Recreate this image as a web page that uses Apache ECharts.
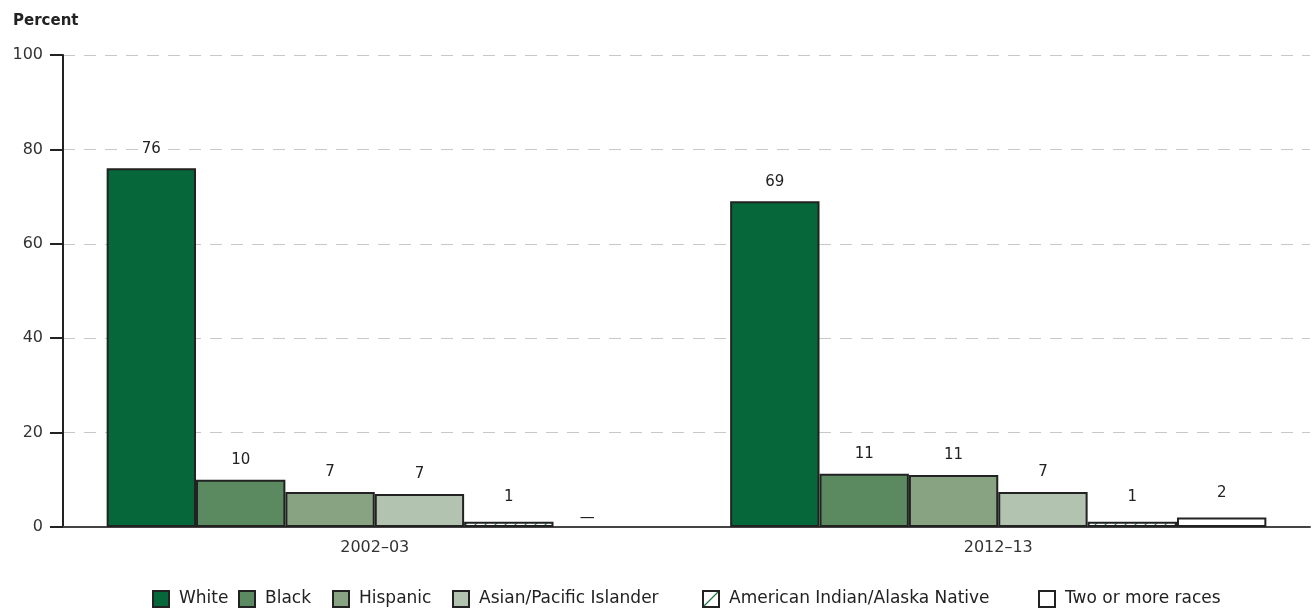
<!DOCTYPE html>
<html>
<head>
<meta charset="utf-8">
<style>
html,body{margin:0;padding:0;background:#fff;}
#chart{width:1314px;height:609px;}
</style>
<script src="https://cdn.jsdelivr.net/npm/echarts@6/dist/echarts.min.js"></script>
</head>
<body>
<div id="chart"></div>
<script>
var categories = ['2002\u201303', '2012\u201313'];
var seriesNames = ['White', 'Black', 'Hispanic', 'Asian/Pacific Islander', 'American Indian/Alaska Native', 'Two or more races'];
var white = [76, 69];
var black = [10, 11.3];
var hispanic = [7.4, 11];
var asian = [7, 7.4];
var aian = [1.1, 1.1];
var twoOrMore = [null, 2];
var yTicks = [0, 20, 40, 60, 80, 100];

var FONT = 'DejaVu Sans';
var colors = ['#05673A', '#5B8A60', '#87A382', '#B2C3AF', '#ffffff', '#ffffff'];
var legendLeft = [147, 233, 327, 447, 697, 1033];
var labelDistance = [11, 11, 11, 11, 16, 16];

function hatch() {
  var c = document.createElement('canvas');
  c.width = 10; c.height = 10;
  var g = c.getContext('2d');
  g.fillStyle = '#fff';
  g.fillRect(0, 0, 10, 10);
  g.strokeStyle = '#1E7A45';
  g.lineWidth = 1.2;
  g.beginPath();
  g.moveTo(0, 10); g.lineTo(10, 0);
  g.moveTo(-5, 5); g.lineTo(5, -5);
  g.moveTo(5, 15); g.lineTo(15, 5);
  g.stroke();
  return {image: c, repeat: 'repeat'};
}

function legendHatch() {
  var c = document.createElement('canvas');
  c.width = 16; c.height = 16;
  var g = c.getContext('2d');
  g.fillStyle = '#fff';
  g.fillRect(0, 0, 16, 16);
  g.strokeStyle = '#1E7A45';
  g.lineWidth = 1.2;
  g.beginPath();
  g.moveTo(1, 15); g.lineTo(15, 1);
  g.stroke();
  return {image: c, repeat: 'repeat'};
}

var allData = [white, black, hispanic, asian, aian, twoOrMore];
var series = allData.map(function (arr, i) {
  return {
    name: seriesNames[i],
    type: 'bar',
    barGap: '0%',
    barCategoryGap: '14%',
    itemStyle: {
      color: i === 4 ? hatch() : colors[i],
      borderColor: '#222',
      borderWidth: 2
    },
    label: {
      show: true,
      position: 'top',
      distance: labelDistance[i],
      fontFamily: FONT,
      fontSize: 15,
      color: '#222',
      backgroundColor: '#fff',
      padding: [1, 3],
      formatter: function (p) { return Math.round(p.value); }
    },
    data: arr.map(function (v) {
      if (v === null) {
        return {
          value: 0,
          itemStyle: {color: 'rgba(0,0,0,0)', borderWidth: 0},
          label: {formatter: '\u2014', distance: 0, offset: [-11, 0], backgroundColor: 'rgba(0,0,0,0)'}
        };
      }
      return v;
    })
  };
});

var legends = seriesNames.map(function (name, i) {
  return {
    data: [{
      name: name,
      itemStyle: i === 4 ? {color: legendHatch()} : undefined
    }],
    left: legendLeft[i],
    top: 585,
    icon: 'rect',
    itemWidth: 16,
    itemHeight: 16,
    selectedMode: false,
    textStyle: {fontFamily: FONT, fontSize: 17, color: '#222', padding: [0, 0, 0, 5]}
  };
});

var chart = echarts.init(document.getElementById('chart'), null, {renderer: 'canvas'});
chart.setOption({
  animation: false,
  backgroundColor: '#fff',
  textStyle: {fontFamily: FONT},
  title: {
    text: 'Percent',
    left: 8,
    top: 9,
    textStyle: {fontFamily: FONT, fontSize: 15, fontWeight: 'bold', color: '#222'}
  },
  grid: {left: 63, right: 4, top: 55, bottom: 82, containLabel: false},
  legend: legends,
  xAxis: {
    type: 'category',
    data: categories,
    axisLine: {lineStyle: {color: '#444', width: 2}},
    axisTick: {show: false},
    axisLabel: {fontFamily: FONT, fontSize: 16, color: '#333', margin: 13}
  },
  yAxis: {
    type: 'value',
    min: yTicks[0],
    max: yTicks[yTicks.length - 1],
    interval: yTicks[1] - yTicks[0],
    axisLine: {show: true, lineStyle: {color: '#222', width: 2}},
    axisTick: {show: true, length: 13, lineStyle: {color: '#222', width: 2}},
    axisLabel: {fontFamily: FONT, fontSize: 16, color: '#333', margin: 20},
    splitLine: {show: true, lineStyle: {color: '#c8c8c8', type: [12, 9], width: 1}}
  },
  series: series
});
</script>
</body>
</html>
